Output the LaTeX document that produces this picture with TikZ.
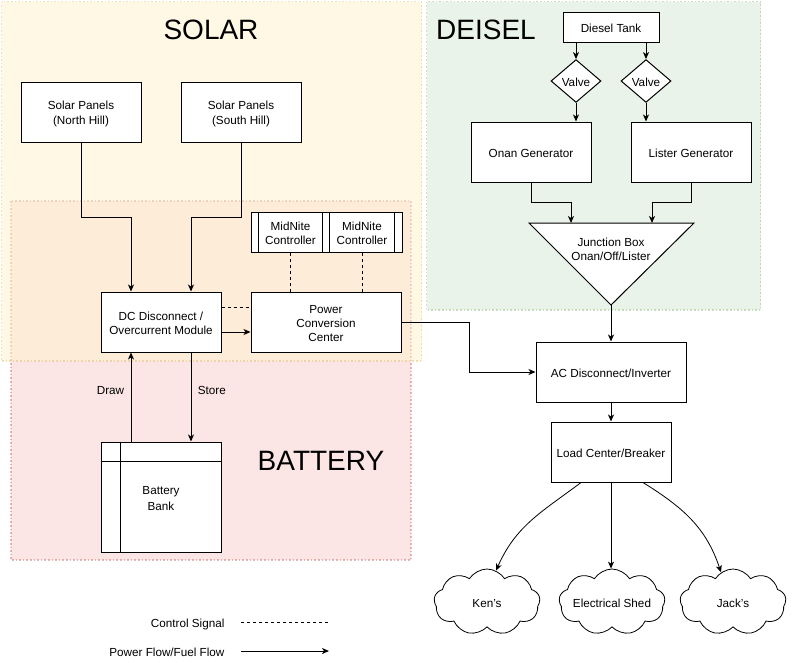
\documentclass[tikz,border=0pt]{standalone}
\usepackage{fontspec}
\setmainfont{Liberation Sans}
\usetikzlibrary{shapes.geometric,shapes.symbols,arrows.meta,calc}
\definecolor{solarfill}{HTML}{FFF2CC}
\definecolor{solarline}{HTML}{D6B656}
\definecolor{batfill}{HTML}{F8CECC}
\definecolor{batline}{HTML}{B85450}
\definecolor{dieselfill}{HTML}{D5E8D4}
\definecolor{dieselline}{HTML}{82B366}
\newcommand\lstrut{\rule[-1.7pt]{0pt}{14.4pt}}
\tikzset{
  basetext/.style={font=\fontsize{11.7}{14.4}\selectfont, align=center, execute at begin node=\lstrut},
  box/.style={basetext, draw, fill=white, line width=1pt, inner sep=0pt, minimum width=120pt, minimum height=60pt},
  flow/.style={draw, line width=1pt, -{Stealth[length=7pt,width=6pt,inset=2pt]}},
  ctrl/.style={draw, line width=1pt, dash pattern=on 3pt off 3pt},
  titletext/.style={font=\fontsize{28}{33.6}\selectfont, anchor=base},
  region/.style={dash pattern=on 1.6pt off 2pt, line width=1.6pt, fill opacity=0.5, draw opacity=0.4},
  valvebox/.style={basetext, diamond, draw, fill=white, line width=1pt, inner sep=0pt, minimum width=50pt, minimum height=40pt},
  cloudbox/.style={cloud, draw, fill=white, line width=0.8pt, cloud puffs=9, cloud puff arc=115, aspect=1.6, minimum width=106pt, minimum height=66pt, inner sep=0pt},
  procline/.style={line width=1pt}
}
\begin{document}
\begin{tikzpicture}[x=1pt,y=-1pt]
\useasboundingbox (0,0) rectangle (792,662);
\fill[white] (0,0) rectangle (792,662);

% regions
\path[region, fill=batfill, draw=batline] (11,201) rectangle (411,560);
\path[region, fill=solarfill, draw=solarline] (1.5,1.5) rectangle (421.5,361);
\path[region, fill=dieselfill, draw=dieselline] (426.5,1.5) rectangle (760.5,310);

\node[titletext] (tsolar) at (211,39) {SOLAR};
\node[titletext] (tdiesel) at (486,39) {DEISEL};
\node[titletext] (tbat) at (321,470) {BATTERY};

% solar nodes
\node[box] (north) at (81,112) {\lstrut Solar Panels\\\lstrut(North Hill)};
\node[box] (south) at (241,112) {\lstrut Solar Panels\\\lstrut(South Hill)};
\node[box] (dc) at (161,322) {\lstrut DC Disconnect /\\\lstrut Overcurrent Module};
\node[box, minimum width=150pt] (pcc) at (326,322) {\lstrut Power\\\lstrut Conversion\\\lstrut Center};

\node[box, minimum width=78pt, minimum height=40pt] (mn1) at (290.5,232) {\lstrut MidNite\\\lstrut Controller};
\draw[procline] ($(mn1.north west)+(7.6,0)$) -- ($(mn1.south west)+(7.6,0)$);
\draw[procline] ($(mn1.north east)+(-7.6,0)$) -- ($(mn1.south east)+(-7.6,0)$);
\node[box, minimum width=80pt, minimum height=40pt] (mn2) at (362,232) {\lstrut MidNite\\\lstrut Controller};
\draw[procline] ($(mn2.north west)+(7.6,0)$) -- ($(mn2.south west)+(7.6,0)$);
\draw[procline] ($(mn2.north east)+(-7.6,0)$) -- ($(mn2.south east)+(-7.6,0)$);

% battery
\node[box, minimum height=110pt] (bat) at (161,497) {\lstrut Battery\\\lstrut Bank};
\draw[procline] ($(bat.north west)+(20,0)$) -- ($(bat.south west)+(20,0)$);
\draw[procline] ($(bat.north west)+(0,20)$) -- ($(bat.north east)+(0,20)$);

% diesel
\node[box, minimum width=96pt, minimum height=30pt] (tank) at (611,27) {Diesel Tank};
\node[valvebox] (v1) at (576,81) {Valve};
\node[valvebox] (v2) at (646,81) {Valve};
\node[box] (onan) at (531,152) {Onan Generator};
\node[box] (lister) at (691,152) {Lister Generator};
\coordinate (jl) at (529,223);
\coordinate (jr) at (694,223);
\coordinate (japex) at (611,305);
\draw[line width=1pt, fill=white] (jl) -- (jr) -- (japex) -- cycle;
\node[basetext, inner sep=0pt] (jbt) at (611,248) {\lstrut Junction Box\\\lstrut Onan/Off/Lister};
\coordinate (jin1) at (571,223);
\coordinate (jin2) at (652,223);

% AC side
\node[box, minimum width=150pt] (ac) at (611,372) {AC Disconnect/Inverter};
\node[box] (load) at (611,452) {Load Center/Breaker};

\node[cloudbox, label={[basetext]center:Ken's}] (ken) at (487,602) {};
\node[cloudbox, label={[basetext]center:Electrical Shed}] (shed) at (612,602) {};
\node[cloudbox, label={[basetext]center:Jack's}] (jack) at (733,602) {};

% connectors - solar
\draw[flow] (north.south) -- ++(0,75) -| ($(dc.north)+(-30,0)$);
\draw[flow] (south.south) -- ++(0,75) -| ($(dc.north)+(30,0)$);
\draw[ctrl] ($(dc.east)+(0,-15)$) -- ($(pcc.west)+(0,-15)$);
\draw[flow] ($(dc.east)+(0,10)$) -- ($(pcc.west)+(0,10)$);
\draw[ctrl] (mn1.south) -- (mn1.south |- pcc.north);
\draw[ctrl] (mn2.south) -- (mn2.south |- pcc.north);
\draw[flow] (pcc.east) -- ++(68,0) |- (ac.west);

% battery connectors
\draw[flow] ($(bat.north)+(-30,0)$) -- node[basetext, pos=0.59, left=3pt] (ldraw) {Draw} ($(dc.south)+(-30,0)$);
\draw[flow] ($(dc.south)+(30,0)$) -- node[basetext, pos=0.41, right=3pt] (lstore) {Store} ($(bat.north)+(30,0)$);

% diesel connectors
\draw[flow] (tank.south -| v1.north) -- (v1.north);
\draw[flow] (tank.south -| v2.north) -- (v2.north);
\draw[flow] (v1.south) -- (v1.south |- onan.north);
\draw[flow] (v2.south) -- (v2.south |- lister.north);
\draw[flow] (onan.south) -- ++(0,20) -| (jin1);
\draw[flow] (lister.south) -- ++(0,20) -| (jin2);
\draw[flow] (japex) -- (ac.north);
\draw[flow] (ac.south) -- (load.north);

% loads
\draw[flow, line width=0.8pt] ($(load.south)+(-30,0)$) .. controls +(-40,30) and +(20,-45) .. (ken.74);
\draw[flow, line width=0.8pt] (load.south) -- (load.south |- shed.north);
\draw[flow, line width=0.8pt] ($(load.south)+(32,0)$) .. controls +(40,25) and +(-15,-45) .. (jack.112);

% legend
\node[basetext, anchor=east] (lctrl) at (228,622) {Control Signal};
\coordinate (lc1) at (241,622);
\coordinate (lc2) at (329,622);
\draw[ctrl] (lc1) -- (lc2);
\node[basetext, anchor=east] (lflow) at (228,651) {Power Flow/Fuel Flow};
\coordinate (lf1) at (241,651);
\coordinate (lf2) at (329,651);
\draw[flow] (lf1) -- (lf2);
\end{tikzpicture}
\end{document}
